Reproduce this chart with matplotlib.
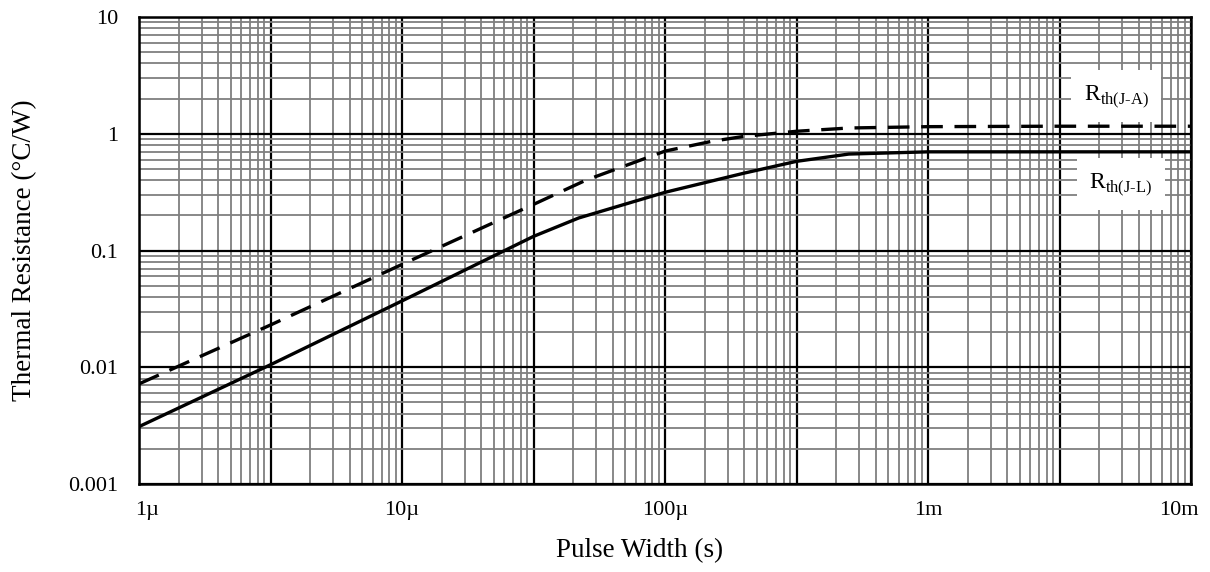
import numpy as np
import matplotlib
matplotlib.use('Agg')
from matplotlib import pyplot as plt
from matplotlib.ticker import FixedLocator, FixedFormatter
from matplotlib.transforms import ScaledTranslation

plt.rcParams['font.family'] = ['Liberation Serif', 'DejaVu Serif']
plt.rcParams['mathtext.fontset'] = 'custom'
plt.rcParams['mathtext.rm'] = 'Liberation Serif'

# pulse width (s) and thermal resistance (°C/W)
t_jl = [1e-6, 3.16e-6, 1e-5, 3.16e-5, 4.7e-5, 1e-4, 2e-4, 3.16e-4, 5e-4, 1e-3, 3e-3, 1e-2]
r_jl = [0.0031, 0.0105, 0.037, 0.132, 0.19, 0.315, 0.46, 0.58, 0.67, 0.70, 0.70, 0.70]
t_ja = [1e-6, 3.16e-6, 1e-5, 2e-5, 3.16e-5, 5e-5, 1e-4, 1.5e-4, 2e-4, 3.16e-4, 5e-4, 1e-3, 3e-3, 1e-2]
r_ja = [0.0072, 0.023, 0.076, 0.155, 0.248, 0.40, 0.71, 0.86, 0.95, 1.05, 1.12, 1.15, 1.16, 1.16]

x_labels = ['1µ', '10µ', '100µ', '1m', '10m']
y_labels = ['0.001', '0.01', '0.1', '1', '10']

fig = plt.figure(figsize=(12.1, 5.72), dpi=100)
ax = fig.add_axes([139/1210, 1-484/572, (1191-139)/1210, (484-17)/572])
ax.set_xscale('log')
ax.set_yscale('log')
ax.set_xlim(1e-6, 1e-2)
ax.set_ylim(1e-3, 10)

# grid: black lines every half decade, grey log-pattern inside each half decade
xmaj = [1e-6*10**(k/2) for k in range(9)]
xmin = [1e-6*10**(k/2)*np.sqrt(m) for k in range(8) for m in range(2, 10)]
ax.xaxis.set_major_locator(FixedLocator(xmaj))
ax.xaxis.set_minor_locator(FixedLocator(xmin))
lab = []
for i in range(9):
    lab.append(x_labels[i//2] if i % 2 == 0 else '')
ax.xaxis.set_major_formatter(FixedFormatter(lab))
ax.xaxis.set_minor_formatter(FixedFormatter([]))

ymaj = [10.0**k for k in range(-3, 2)]
ymin = [m*10.0**k for k in range(-3, 1) for m in range(2, 10)]
ax.yaxis.set_major_locator(FixedLocator(ymaj))
ax.yaxis.set_minor_locator(FixedLocator(ymin))
ax.yaxis.set_major_formatter(FixedFormatter(y_labels))
ax.yaxis.set_minor_formatter(FixedFormatter([]))

ax.grid(which='minor', color='#7f7f7f', lw=1.3)
ax.grid(which='major', color='black', lw=1.6)
ax.set_axisbelow(True)
ax.tick_params(which='both', length=0, labelsize=16)
ax.tick_params(axis='y', pad=15)
ax.tick_params(axis='x', pad=12)
for s in ax.spines.values():
    s.set_linewidth(1.8)

# keep end labels inside the plot like the original
xt = ax.get_xticklabels()
xt[0].set_transform(xt[0].get_transform() + ScaledTranslation(8/100, 0, fig.dpi_scale_trans))
xt[-1].set_transform(xt[-1].get_transform() + ScaledTranslation(-12/100, 0, fig.dpi_scale_trans))

ax.plot(t_ja, r_ja, color='black', lw=2.4, ls=(0, (6.5, 3.5)), zorder=3)
ax.plot(t_jl, r_jl, color='black', lw=2.4, zorder=3)

box = dict(facecolor='white', edgecolor='none', pad=9)
ax.text(5.2e-3, 2.1, r'R$_{\text{th(J-A)}}$', fontsize=17, ha='center', va='center', bbox=box, zorder=4)
ax.text(5.4e-3, 0.37, r'R$_{\text{th(J-L)}}$', fontsize=17, ha='center', va='center', bbox=box, zorder=4)

ax.set_xlabel('Pulse Width (s)', fontsize=19.5, labelpad=13)
ax.xaxis.label.set_x(0.476)
ax.set_ylabel('Thermal Resistance (°C/W)', fontsize=19.5, labelpad=22)

fig.savefig('out.png', dpi=100)
